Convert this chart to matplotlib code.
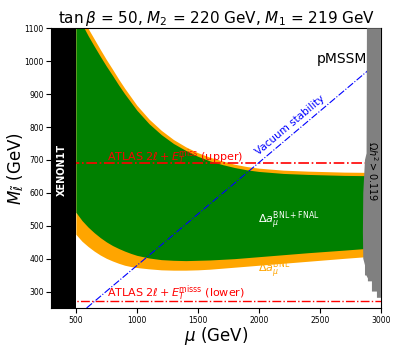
import matplotlib
matplotlib.use("Agg")
import matplotlib.pyplot as plt

# boundaries of the allowed bands
mu = [500, 550, 600, 650, 700, 750, 800, 850, 900, 950, 1000, 1100, 1200, 1300, 1400,
      1500, 1600, 1700, 1800, 1900, 2000, 2200, 2400, 2700, 2950]
bnl_upper = [1175, 1135, 1100, 1068, 1036, 1005, 976, 946, 918, 892, 866, 824, 790, 762, 740,
             722, 708, 697, 687, 680, 675, 669, 666, 663, 662]
fnal_upper = [1153, 1113, 1078, 1046, 1015, 985, 957, 928, 901, 876, 851, 810, 777, 750, 729,
              711, 697, 686, 677, 670, 665, 659, 656, 653, 652]
fnal_lower = [541, 516, 496, 479, 464, 451, 440, 431, 423, 416, 410, 402, 397, 395, 394,
              395, 396, 398, 400, 403, 406, 412, 418, 426, 433]
bnl_lower = [474, 453, 437, 423, 411, 401, 393, 386, 380, 376, 373, 369, 366, 365, 365,
             366, 368, 371, 374, 377, 380, 386, 392, 401, 408]

# vacuum stability line
vac_mu = [588, 3000]
vac_m = [250, 1005]

# ATLAS limits
atlas_upper = 690
atlas_lower = 270

# XENON1T excluded mu range
xenon_mu = [300, 500]

# relic density excluded region (left edge)
relic_mu = [2885, 2882, 2869, 2855, 2852, 2855, 2869, 2869, 2880, 2893, 2893, 2926, 2926, 2967, 2967, 3000, 3000]
relic_m = [1100, 720, 700, 600, 480, 400, 380, 349, 349, 340, 331, 331, 300, 300, 281, 281, 1100]

fig = plt.figure(figsize=(4.15, 3.5), dpi=100)
ax = fig.add_axes([0.124, 0.12, 0.794, 0.799])

ax.fill_between(mu, bnl_lower, bnl_upper, color='orange', lw=0, zorder=1)
ax.fill_between(mu, fnal_lower, fnal_upper, color='green', lw=0, zorder=2)

ax.axhline(atlas_upper, color='red', ls='-.', lw=1.2, zorder=3)
ax.axhline(atlas_lower, color='red', ls='-.', lw=1.0, zorder=3)
ax.plot(vac_mu, vac_m, color='blue', ls='-.', lw=0.8, zorder=3)

ax.axvspan(xenon_mu[0], xenon_mu[1], color='black', lw=0, zorder=5)
ax.fill(relic_mu, relic_m, color='gray', lw=0, zorder=5)

ax.text(385, 669, 'XENON1T', color='white', fontweight='bold', fontsize=7,
        rotation=90, ha='center', va='center', zorder=6)
ax.text(2930, 666, r'$\Omega h^2 > 0.119$', color='black', fontsize=7,
        rotation=270, ha='center', va='center', zorder=6)
ax.text(2885, 996, 'pMSSM', fontsize=10, ha='right', va='baseline', zorder=6)
ax.text(2255, 805, 'Vacuum stability', color='blue', fontsize=7.5,
        rotation=40, rotation_mode='anchor', ha='center', va='center', zorder=6)
ax.text(754, 697, r'ATLAS $2\ell + E_T^{\rm miss}$ (upper)', color='red',
        fontsize=8, va='baseline', zorder=6)
ax.text(754, 286, r'ATLAS $2\ell + E_T^{\rm misss}$ (lower)', color='red',
        fontsize=8, va='baseline', zorder=6)
ax.text(1992, 506, r'$\Delta a_\mu^{\rm BNL+FNAL}$', color='white',
        fontsize=8, va='baseline', zorder=6)
ax.text(1992, 358, r'$\Delta a_\mu^{\rm BNL}$', color='orange',
        fontsize=8, va='baseline', zorder=6)

ax.set_xlim(300, 3000)
ax.set_ylim(250, 1100)
ax.set_xticks([500, 1000, 1500, 2000, 2500, 3000])
ax.set_yticks(range(300, 1101, 100))
ax.tick_params(labelsize=5.5, pad=2)
ax.set_xlabel(r'$\mu$ (GeV)', fontsize=12, labelpad=0)
ax.set_ylabel(r'$M_{\tilde{\ell}}$ (GeV)', fontsize=12, labelpad=-1)
ax.set_title(r'$\tan\beta$ = 50, $M_2$ = 220 GeV, $M_1$ = 219 GeV', fontsize=11, pad=3)

fig.savefig('out.png', dpi=100)
